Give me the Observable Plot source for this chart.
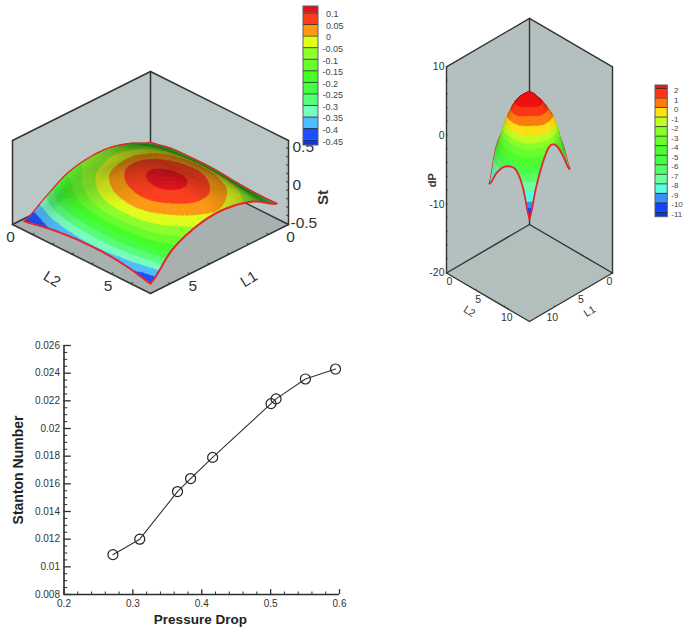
<!DOCTYPE html>
<html><head><meta charset="utf-8">
<style>html,body{margin:0;padding:0;background:#fff}#root{position:relative;width:685px;height:628px;overflow:hidden}svg{position:absolute;background:none}</style>
<script src="https://cdn.jsdelivr.net/npm/d3@7"></script>
<script src="https://cdn.jsdelivr.net/npm/@observablehq/plot@0.6"></script>
</head><body><div id="root"></div>
<script>
// ---- Line chart data
const pressureDrop = [0.271,0.310,0.3648,0.3838,0.4158,0.5006,0.5079,0.5505,0.5942];
const stanton = [0.01088,0.0120,0.01544,0.01638,0.01791,0.0218,0.02214,0.02358,0.0243];
const xMajor = [0.2,0.3,0.4,0.5,0.6];
const yMajor = [0.008,0.01,0.012,0.014,0.016,0.018,0.02,0.022,0.024,0.026];

// ---- Surface St(L1,L2): rows L1 low to high, columns L2 low to high
const stGrid = [
 [-.27,-.22,-.21,-.21,-.235,-.25,-.25],
 [-.16,-.085,-.035,-.01,-.012,-.05,-.10],
 [-.09,-.03,.04,.075,.08,.04,-.024],
 [-.09,-.035,.055,.105,.115,.065,-.006],
 [-.15,-.08,-.005,.045,.055,.005,-.06],
 [-.30,-.20,-.125,-.085,-.08,-.115,-.186],
 [-.46,-.41,-.375,-.36,-.365,-.395,-.45]
];
const stLevels = [-.45,-.4,-.35,-.3,-.25,-.2,-.15,-.1,-.05,0,.05,.1];
const stLabels = ["-0.45","-0.4","-0.35","-0.3","-0.25","-0.2","-0.15","-0.1","-0.05","0","0.05","0.1"];
const stColors = ["#1432e8","#1a4fff","#4ebcff","#77ffc0","#55ff77","#44ff44","#44ff25","#66ff2a","#8fff28","#e2ff1a","#ff9a10","#ff3d1a","#e8101c"];

// ---- Surface dP(L1,L2): apparent height on the wall axis
const dpGrid = [
 [-4,-1.5,0,.8,-.3,-2,-4.8],
 [-1.5,1,3,3.4,3,1.8,-2.3],
 [.5,3,4.5,5.2,4.8,3.2,-.3],
 [1,3.8,5.3,6.3,5.5,3.6,.1],
 [-.5,2.8,5.1,5.5,4,2,-1.7],
 [-2.4,.9,3,3.6,2,-.2,-4.7],
 [-6.97,-4.95,-3.5,-2.8,-2.8,-4.7,-8.7]
];
const dpHeightBands = [-8.2,-7.4,-6.6,-5.2,-4,-3,-2,-.9,.1,.9,1.8,2.9,4,5];
const dpLevels = [-11,-10,-9,-8,-7,-6,-5,-4,-3,-2,-1,0,1,2];
const dpColors = ["#1133dd","#1144ff","#3a8fff","#55ffe0","#70ffa0","#55ff66","#44ff44","#4dff2a","#66ff2a","#88ff28","#c0ff20","#ffe010","#ff7a10","#ff3318","#ee1111"];

const root = document.getElementById("root");
const font = "'Liberation Sans',Arial,sans-serif";
function place(svg,left,top){svg.style.left=left+"px";svg.style.top=top+"px";root.appendChild(svg);}

function cr(a,b,c,d,t){return .5*(2*b+(c-a)*t+(2*a-5*b+4*c-d)*t*t+(3*b-a-3*c+d)*t*t*t);}
function surfaceAt(g,u,v){ // u,v in grid index units
  const n=g.length-1,i=Math.min(n-1,Math.floor(u)),j=Math.min(n-1,Math.floor(v));
  const at=(a,b)=>g[Math.max(0,Math.min(n,a))][Math.max(0,Math.min(n,b))];
  const row=k=>cr(at(k,j-1),at(k,j),at(k,j+1),at(k,j+2),v-j);
  return cr(row(i-1),row(i),row(i+1),row(i+2),u-i);
}
function clip(poly,level,above){
  const out=[];
  for(let k=0;k<poly.length;k++){
    const p=poly[k],q=poly[(k+1)%poly.length];
    const pin=above?p.z>=level:p.z<=level,qin=above?q.z>=level:q.z<=level;
    if(pin)out.push(p);
    if(pin!==qin){const t=(level-p.z)/(q.z-p.z);out.push({u:p.u+(q.u-p.u)*t,v:p.v+(q.v-p.v)*t,z:level});}
  }
  return out;
}

function box(cfg){
  const {M,cx,by,k,ky,zy,zmin,zmax,a,b,grid,edges,colors,ox,oy,w,h}=cfg;
  const X=(l1,l2)=>cx+(l2-l1)/M*k;
  const Y=(l1,l2,z)=>by+(l1+l2)/M*ky-(z-zmin)*zy;
  const N=grid.length-1, L=i=>a+(b-a)*i/N;
  const P=(l1,l2,z)=>({x:X(l1,l2),y:Y(l1,l2,z)});
  const poly=(corners,id)=>corners.map(c=>({...P(...c),id}));
  const walls=[
    ...poly([[0,0,zmin],[M,0,zmin],[M,0,zmax],[0,0,zmax]],"l"),
    ...poly([[0,0,zmin],[0,M,zmin],[0,M,zmax],[0,0,zmax]],"r")];
  const floor=poly([[0,0,zmin],[M,0,zmin],[M,M,zmin],[0,M,zmin]],"f");
  const segs=[[[0,0,zmin],[0,0,zmax]],[[M,0,zmin],[M,0,zmax]],[[0,M,zmin],[0,M,zmax]],
    [[0,0,zmax],[M,0,zmax]],[[0,0,zmax],[0,M,zmax]],[[0,0,zmin],[M,0,zmin]],[[0,0,zmin],[0,M,zmin]],
    [[M,0,zmin],[M,M,zmin]],[[0,M,zmin],[M,M,zmin]]];
  const boxLines=segs.flatMap((s,i)=>poly(s,i));
  // mesh
  const n=cfg.mesh, rows=[]; let id=0;
  const slope=(zy/.816)/(k/.866/M)*(N/(b-a));
  for(let i=0;i<n;i++)for(let j=0;j<n;j++){
    const us=[i,i+1,i+1,i].map(d=>d/n*N),vs=[j,j,j+1,j+1].map(d=>d/n*N);
    const q=us.map((u,m)=>({u,v:vs[m],z:surfaceAt(grid,u,vs[m])}));
    const uc=(i+.5)/n*N,vc=(j+.5)/n*N,e=.03;
    const p1=(surfaceAt(grid,Math.min(N,uc+e),vc)-surfaceAt(grid,Math.max(0,uc-e),vc))/(2*e)*slope;
    const p2=(surfaceAt(grid,uc,Math.min(N,vc+e))-surfaceAt(grid,uc,Math.max(0,vc-e)))/(2*e)*slope;
    const cos=Math.max(0,(1-p1-p2)*.577/Math.sqrt(p1*p1+p2*p2+1));
    const shade=Math.min(1,cfg.shadeBase+cfg.shadeGain*cos);
    colors.forEach((col,c)=>{
      let pl=q;
      if(c>0)pl=clip(pl,edges[c-1],true);
      if(pl.length&&c<edges.length)pl=clip(pl,edges[c],false);
      if(pl.length<3)return;
      const rgb=d3.rgb(col),fill=`rgb(${Math.round(rgb.r*shade)},${Math.round(rgb.g*shade)},${Math.round(rgb.b*shade)})`;
      id++;
      pl.forEach(pt=>rows.push({...P(L(pt.u),L(pt.v),pt.z),id,fill}));
      const f=pl[0];rows.push({...P(L(f.u),L(f.v),f.z),id,fill});
    });
  }
  // surface edges
  const edgePath=(fn,idn)=>d3.range(0,61).map(s=>{const t=s/60*N,[u,v]=fn(t);return {...P(L(u),L(v),surfaceAt(grid,u,v)),id:idn};});
  const front=[...edgePath(t=>[N,t],"a"),...edgePath(t=>[t,N],"b")];
  const back=[...edgePath(t=>[0,t],"c"),...edgePath(t=>[t,0],"d")];
  const red="#e2252f";
  const lineOpts={x:"x",y:"y",z:"id",stroke:"#333",strokeWidth:cfg.lineW};
  // ticks
  const tick=(fromFn,toFn,list)=>list.map(t=>{const A=P(...fromFn(t)),B=P(...toFn(t));return {x1:A.x,y1:A.y,x2:B.x,y2:B.y};});
  const d=cfg.tickLen;
  const ticks=[
    ...tick(t=>[M,t,zmin],t=>[M-d,t,zmin],cfg.floorTicks),
    ...tick(t=>[t,M,zmin],t=>[t,M-d,zmin],cfg.floorTicks),
    ...tick(z=>cfg.zWall(z),z=>cfg.zWallIn(z,d),cfg.zTicks)
  ];
  const tx={fontFamily:font,fill:"#333"};
  const labels=cfg.labels(P);
  const marks=[
    Plot.line(floor,{x:"x",y:"y",z:"id",fill:cfg.floorFill,stroke:null}),
    Plot.line(walls,{x:"x",y:"y",z:"id",fill:cfg.wallFill,stroke:null}),
    Plot.line(boxLines,lineOpts),
    Plot.link(ticks,{x1:"x1",y1:"y1",x2:"x2",y2:"y2",stroke:"#333",strokeWidth:1}),
    ...(cfg.backOnTop?[]:[Plot.line(back,{x:"x",y:"y",z:"id",stroke:red,strokeWidth:2.2})]),
    Plot.line(rows,{x:"x",y:"y",z:"id",fill:"fill",stroke:"fill",strokeWidth:.5}),
    ...(cfg.backOnTop?[Plot.line(back,{x:"x",y:"y",z:"id",stroke:red,strokeWidth:1.3})]:[]),
    Plot.line(front,{x:"x",y:"y",z:"id",stroke:red,strokeWidth:cfg.frontW}),
    ...labels.map(l=>Plot.text([l.text],{x:()=>l.x,y:()=>l.y,text:d=>d,dx:l.dx||0,dy:l.dy||0,rotate:l.rotate||0,
      fontSize:l.size,fontWeight:l.bold?"bold":"normal",textAnchor:l.anchor||"middle",...tx}))
  ];
  const svg=Plot.plot({width:w,height:h,margin:0,
    x:{domain:[ox,ox+w],range:[0,w],axis:null},
    y:{domain:[oy,oy+h],range:[0,h],axis:null},
    color:{type:"identity"},marks});
  place(svg,ox,oy);
}

const M1=7, Z1=[-.5,.5];
box({M:M1,cx:150,by:155,k:138,ky:69,zy:84,zmin:Z1[0],zmax:.5,a:.3,b:6.7,grid:stGrid,edges:stLevels,colors:stColors,
  ox:0,oy:0,w:345,h:305,mesh:48,lineW:1.5,frontW:2,shadeBase:.42,shadeGain:.75,backOnTop:true,
  wallFill:"#bac7c6",floorFill:"#a8b1af",tickLen:.12,
  floorTicks:[1,2,3,4,5,6],zTicks:d3.range(-5,6).map(v=>v/10),
  zWall:z=>[0,M1,z],zWallIn:(z,d)=>[0,M1-d,z],
  labels:P=>{
    const ax=15.5,zl=v=>P(0,M1,-.5+(v+.5)*(76/84));
    const L2=t=>P(M1,t,-.5),L1=t=>P(t,M1,-.5);
    return [
     ...[[-.5,"-0.5",2],[0,"0",4],[.5,"0.5",4]].map(([v,s,dx])=>({text:s,...zl(v),dx,dy:-1,size:ax,anchor:"start"})),
     {text:"St",...P(0,M1,-.18),dx:35,size:15,bold:true,rotate:-90},
     {text:"0",...L2(0),dx:-2,dy:12.5,size:ax},{text:"5",...L2(5),dx:-3,dy:12,size:ax},
     {text:"0",...L1(0),dx:2,dy:12.5,size:ax},{text:"5",...L1(5),dx:3,dy:12,size:ax},
     {text:"L2",...L2(2),dy:35,size:15,rotate:32},{text:"L1",...L1(2),dy:35,size:15,rotate:-32}
    ];}
});

const M2=14.5;
box({M:M2,cx:529,by:224,k:83,ky:48.5,zy:6.87,zmin:-20,zmax:10,a:3.77,b:10.73,grid:dpGrid,edges:dpHeightBands,colors:dpColors,
  ox:420,oy:0,w:210,h:335,mesh:48,lineW:1.4,frontW:1.8,shadeBase:.78,shadeGain:.35,backOnTop:false,
  wallFill:"#b3c0bf",floorFill:"#b3bfbc",tickLen:.2,
  floorTicks:[5,10],zTicks:d3.range(-20,11,2),
  zWall:z=>[M2,0,z],zWallIn:(z,d)=>[M2-d,0,z],
  labels:P=>{
    const L2=t=>P(M2,t,-20),L1=t=>P(t,M2,-20),wall=z=>P(M2,0,z),sz=10.5;
    return [
     ...[10,0,-10,-20].map(v=>({text:String(v),...wall(v),dx:-2,size:sz,anchor:"end"})),
     {text:"dP",...wall(-6.5),dx:-14,size:11,bold:true,rotate:-90},
     ...[0,5,10].map(t=>({text:String(t),...L2(t),dx:3,dy:9+t*.25,size:sz})),
     ...[0,5,10].map(t=>({text:String(t),...L1(t),dx:-3,dy:9+t*.25,size:sz})),
     {text:"L2",...L2(4),dy:25,size:10.5,rotate:32},{text:"L1",...L1(4),dy:25,size:10.5,rotate:-32}
    ];}
});

// ---- Colour legends
function legend({levels,labels,colors,top,bottom,pxTop,pxBottom,left,width,fontSize,dy,posX,negX}){
  const bounds=[bottom,...levels,top];
  const bands=colors.map((c,i)=>({y1:bounds[i],y2:bounds[i+1],c}));
  const H=pxBottom-pxTop+4;
  const svg=Plot.plot({width:width+30,height:H,marginTop:2,marginBottom:2,marginLeft:2,marginRight:28,
    x:{domain:[0,1],axis:null},y:{domain:[bottom,top],axis:null},color:{type:"identity"},
    marks:[
      Plot.rect(bands,{x1:0,x2:1,y1:"y1",y2:"y2",fill:"c"}),
      Plot.ruleY(levels,{x1:0,x2:1,stroke:"#1c2a1c",strokeWidth:.8}),
      Plot.rect([0],{x1:0,x2:1,y1:bottom,y2:top,stroke:"#55606a",strokeWidth:1,fill:"none"}),
      Plot.text(levels,{x:v=>v<0?negX:posX,y:v=>v,text:(v,i)=>labels[i],dy,textAnchor:"start",fontSize,fontFamily:font,fill:"#444"})
    ]});
  place(svg,left-2,pxTop-2);
}
legend({levels:stLevels,labels:stLabels,colors:stColors,top:.128,bottom:-.473,pxTop:6,pxBottom:145,left:302.7,width:15,fontSize:9,dy:1.5,posX:1.5,negX:1.27});
legend({levels:dpLevels,labels:dpLevels.map(String),colors:dpColors,top:2.31,bottom:-11.5,pxTop:85,pxBottom:216.7,left:655,width:12.3,fontSize:8,dy:2,posX:1.5,negX:1.28});

// ---- Line chart
const pts=pressureDrop.map((x,i)=>({x,y:stanton[i]}));
const xMinor=d3.range(10,31).map(v=>v/50).filter(v=>!xMajor.some(m=>Math.abs(m-v)<1e-6));
const yMinor=d3.range(16,53).map(v=>v/2000).filter(v=>!yMajor.some(m=>Math.abs(m-v)<1e-6));
const dark="#2b2f2f";
place(Plot.plot({width:350,height:293,marginLeft:63.5,marginRight:11,marginTop:10,marginBottom:34,
  style:{fontFamily:font,fontSize:"10px",color:"#333"},
  x:{domain:[.2,.6]},y:{domain:[.008,.026]},
  marks:[
    Plot.axisX({ticks:xMajor,tickSize:0,tickPadding:5,tickFormat:d=>String(+d.toFixed(1)),label:null,fontSize:10}),
    Plot.axisY({ticks:yMajor,tickSize:0,tickPadding:4,tickFormat:d=>String(+d.toFixed(3)),label:null,fontSize:10}),
    Plot.ruleX(xMajor,{y1:.008,y2:.00835,stroke:dark,strokeWidth:1.3}),
    Plot.ruleX(xMinor,{y1:.008,y2:.00818,stroke:dark,strokeWidth:1}),
    Plot.ruleY(yMajor,{x1:.2,x2:.2105,stroke:dark,strokeWidth:1.3}),
    Plot.ruleY(yMinor,{x1:.2,x2:.2055,stroke:dark,strokeWidth:1}),
    Plot.ruleX([.2],{y1:.008,y2:.026,stroke:dark,strokeWidth:1.6}),
    Plot.ruleY([.008],{x1:.2,x2:.6,stroke:dark,strokeWidth:1.6}),
    Plot.line(pts,{x:"x",y:"y",stroke:"#333",strokeWidth:1.1}),
    Plot.dot(pts,{x:"x",y:"y",r:5,stroke:"#222",strokeWidth:1.2,fill:"none"}),
    Plot.text(["Pressure Drop"],{x:()=>.398,y:()=>.008,dy:25,text:d=>d,fontSize:13.5,fontWeight:"bold",fill:"#222"}),
    Plot.text(["Stanton Number"],{x:()=>.2,y:()=>.017,dx:-45,text:d=>d,rotate:-90,fontSize:14,fontWeight:"bold",fill:"#222"})
  ]}),0,335);
</script></body></html>
